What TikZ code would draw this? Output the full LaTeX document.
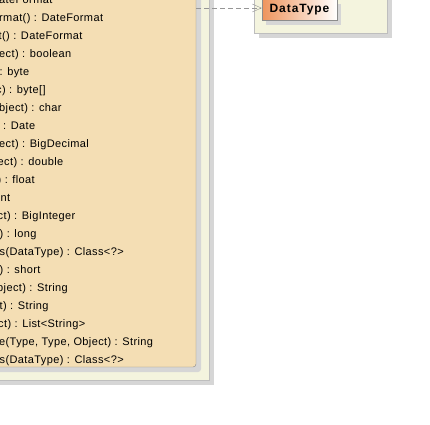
\documentclass[tikz,border=0pt]{standalone}
\usepackage{fontspec}
\setmainfont{Liberation Sans}
\newfontfamily\umlfont[LetterSpace=3.5]{Liberation Sans}
\newfontfamily\dtfont[LetterSpace=8]{Liberation Sans}
\usetikzlibrary{positioning}
\usetikzlibrary{arrows.meta}
\usetikzlibrary{shadows}

\definecolor{classfill}{RGB}{244,222,180}
\definecolor{pkgfill}{RGB}{244,244,222}
\definecolor{shadowgray}{RGB}{214,214,214}
\definecolor{classborder}{RGB}{140,140,140}
\definecolor{pkgborder}{RGB}{190,190,190}
\definecolor{dtorange}{RGB}{238,148,92}
\definecolor{linkgray}{RGB}{150,150,150}

\tikzset{
  pkg/.style={draw=pkgborder, fill=pkgfill, inner sep=0pt,
    drop shadow={shadow xshift=4.5pt, shadow yshift=-4.5pt, fill=shadowgray, opacity=1}},
  classbox/.style={draw=classborder, fill=classfill, rounded corners=3pt, inner sep=0pt,
    drop shadow={shadow xshift=5pt, shadow yshift=-5pt, fill=shadowgray, opacity=1}},
  typebox/.style={draw=classborder, left color=dtorange, right color=white, inner sep=0pt,
    font=\dtfont\bfseries\fontsize{12pt}{14pt}\selectfont,
    drop shadow={shadow xshift=4pt, shadow yshift=-5pt, fill=shadowgray, opacity=1}},
  member/.style={anchor=base west, inner sep=0pt, font=\umlfont\fontsize{11pt}{13pt}\selectfont},
  realize/.style={draw=linkgray, dash pattern=on 5pt off 3pt, -{Straight Barb[length=9pt,width=8pt]}}
}

\begin{document}
\begin{tikzpicture}[x=1pt, y=-1pt]
    \useasboundingbox (0,0) rectangle (430,424);
    \clip (0,0) rectangle (430,424);

    \node[pkg, minimum width=269pt, minimum height=420pt] (convpkg) at (74.5,170) {};
    \node[classbox, minimum width=256pt, minimum height=407pt] (converter) at (68,163.5) {};

    \node[pkg, minimum width=133pt, minimum height=73pt] (typepkg) at (320.5,-3.5) {};
    \node[typebox, minimum width=75pt, minimum height=20.8pt] (datatype) at (299.5,9.6) {DataType};

    \foreach \k/\dx/\txt in {0/-1/{ateFormat}, 1/-1/{rmat() : DateFormat}, 2/-1.5/{t() : DateFormat},
        3/-1/{ect) : boolean}, 4/-0.5/{: byte}, 5/-4/{c) : byte[]}, 6/-1/{bject) : char},
        7/3/{: Date}, 8/-1/{ect) : BigDecimal}, 9/-2.5/{ect) : double}, 10/-2.5/{) : float},
        11/0.5/{nt}, 12/-2.5/{ct) : BigInteger}, 13/-0.5/{) : long},
        14/-0.5/{s(DataType) : Class<?>}, 15/-0.5/{) : short}, 16/-3/{bject) : String},
        17/-0.5/{t) : String}, 18/-2/{ct) : List<String>},
        19/-1/{e(Type, Type, Object) : String}, 20/-0.5/{s(DataType) : Class<?>}}
      \node[member] (m\k) at (\dx,3.5+18*\k) {\txt};

    \draw[realize] ([yshift=1.6pt]converter.east |- datatype.west) -- ([yshift=1.6pt]datatype.west);
\end{tikzpicture}
\end{document}
